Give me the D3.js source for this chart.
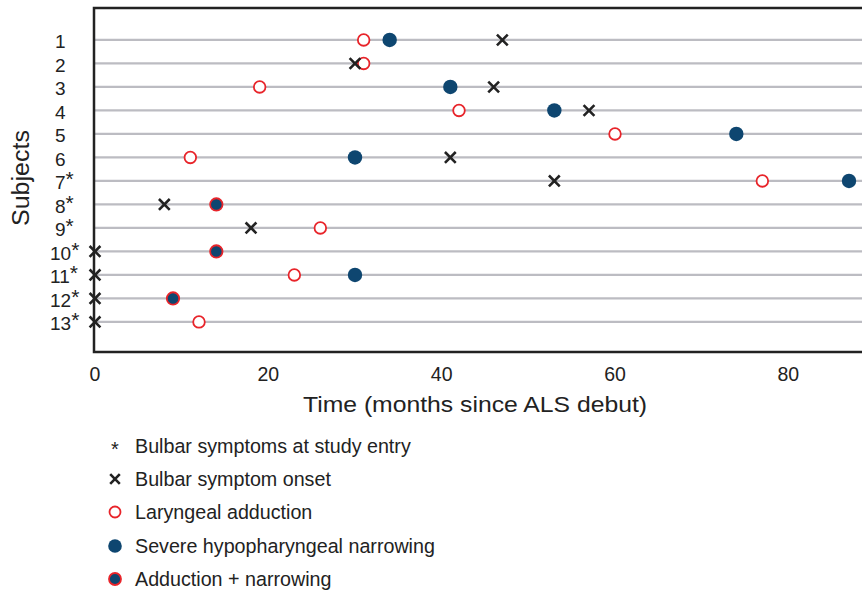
<html>
<script src="https://d3js.org/d3.v7.min.js"></script>
<body style="margin:0; background:#fff;">
<svg width="862" height="590"></svg>
<script>

var subjects = ["1", "2", "3", "4", "5", "6", "7", "8", "9", "10", "11", "12", "13"];
var bulbarEntry = [false, false, false, false, false, false, true, true, true, true, true, true, true];
// months since ALS debut, null = not observed
var onset     = [47, 30, 46, 57, null, 41, 53, 8, 18, 0, 0, 0, 0];
var adduction = [31, 31, 19, 42, 60, 11, 77, null, 26, null, 23, null, 12];
var narrowing = [34, null, 41, 53, 74, 30, 87, null, null, null, 30, null, null];
var combined  = [null, null, null, null, null, null, null, 14, null, 14, null, 9, null];
var xTicks = [0, 20, 40, 60, 80];

var legendItems = ["Bulbar symptoms at study entry", "Bulbar symptom onset", "Laryngeal adduction",
    "Severe hypopharyngeal narrowing", "Adduction + narrowing"];

var navy = "#0e4670", red = "#e8242a", ink = "#222";

var svg = d3.select("svg").style("font-family", "'Liberation Sans', Arial, sans-serif");

var x = d3.scaleLinear().domain([0, 90]).range([95, 875]);
var y = d3.scaleLinear().domain([-0.36, 14.28]).range([8, 352]);

// row lines
svg.append("g").selectAll("line")
    .data(subjects)
    .join("line")
    .attr("x1", x(0)).attr("x2", 875)
    .attr("y1", (d, i) => y(i + 1)).attr("y2", (d, i) => y(i + 1))
    .attr("stroke", "#bcbcc2").attr("stroke-width", 2.2);

// frame
svg.append("path")
    .attr("d", "M875,8 L94,8 L94,352 L875,352")
    .attr("fill", "none").attr("stroke", ink).attr("stroke-width", 2.5);

// y labels
var yl = svg.append("g").selectAll("text")
    .data(subjects)
    .join("text")
    .attr("x", d => d.length > 1 ? 50 : 55)
    .attr("y", (d, i) => y(i + 1) + 8.5)
    .attr("font-size", 19).attr("fill", ink)
    .text(d => d);
yl.filter((d, i) => bulbarEntry[i]).append("tspan")
    .attr("dy", -3).attr("font-size", 21).text("*");

svg.append("text")
    .attr("transform", "translate(29,178) rotate(-90)")
    .attr("text-anchor", "middle").attr("font-size", 23).attr("fill", ink)
    .attr("textLength", 96).attr("lengthAdjust", "spacingAndGlyphs")
    .text("Subjects");

// x labels
svg.append("g").selectAll("text")
    .data(xTicks)
    .join("text")
    .attr("x", d => x(d)).attr("y", 381)
    .attr("text-anchor", "middle").attr("font-size", 19.5).attr("fill", ink)
    .text(d => d);

svg.append("text")
    .attr("x", 475).attr("y", 412)
    .attr("text-anchor", "middle").attr("font-size", 22).attr("fill", ink)
    .attr("textLength", 344).attr("lengthAdjust", "spacingAndGlyphs")
    .text("Time (months since ALS debut)");

function cross(g, cx, cy, s) {
    g.append("path")
        .attr("d", `M${cx - s},${cy - s} L${cx + s},${cy + s} M${cx - s},${cy + s} L${cx + s},${cy - s}`)
        .attr("stroke", ink).attr("stroke-width", 2.6).attr("fill", "none");
}

var marks = svg.append("g");
subjects.forEach(function(s, i) {
    var cy = y(i + 1);
    if (adduction[i] != null)
        marks.append("circle").attr("cx", x(adduction[i])).attr("cy", cy).attr("r", 5.8)
            .attr("fill", "#fff").attr("stroke", red).attr("stroke-width", 1.8);
    if (narrowing[i] != null)
        marks.append("circle").attr("cx", x(narrowing[i])).attr("cy", cy).attr("r", 7.2)
            .attr("fill", navy);
    if (combined[i] != null)
        marks.append("circle").attr("cx", x(combined[i])).attr("cy", cy).attr("r", 6.2)
            .attr("fill", navy).attr("stroke", red).attr("stroke-width", 1.8);
    if (onset[i] != null) cross(marks, x(onset[i]), cy, 5.4);
});

// legend
var lg = svg.append("g");
var ly = [446, 479, 512, 546, 579];
legendItems.forEach(function(t, i) {
    lg.append("text").attr("x", 135).attr("y", ly[i] + 7)
        .attr("font-size", 19.7).attr("fill", ink).text(t);
});
lg.append("text").attr("x", 115).attr("y", ly[0] + 10).attr("text-anchor", "middle")
    .attr("font-size", 20).attr("fill", ink).text("*");
cross(lg, 115, ly[1], 4.8);
lg.append("circle").attr("cx", 115).attr("cy", ly[2]).attr("r", 5.5)
    .attr("fill", "#fff").attr("stroke", red).attr("stroke-width", 1.8);
lg.append("circle").attr("cx", 115).attr("cy", ly[3]).attr("r", 6.8).attr("fill", navy);
lg.append("circle").attr("cx", 115).attr("cy", ly[4]).attr("r", 6)
    .attr("fill", navy).attr("stroke", red).attr("stroke-width", 1.8);

</script>
</body>
</html>
